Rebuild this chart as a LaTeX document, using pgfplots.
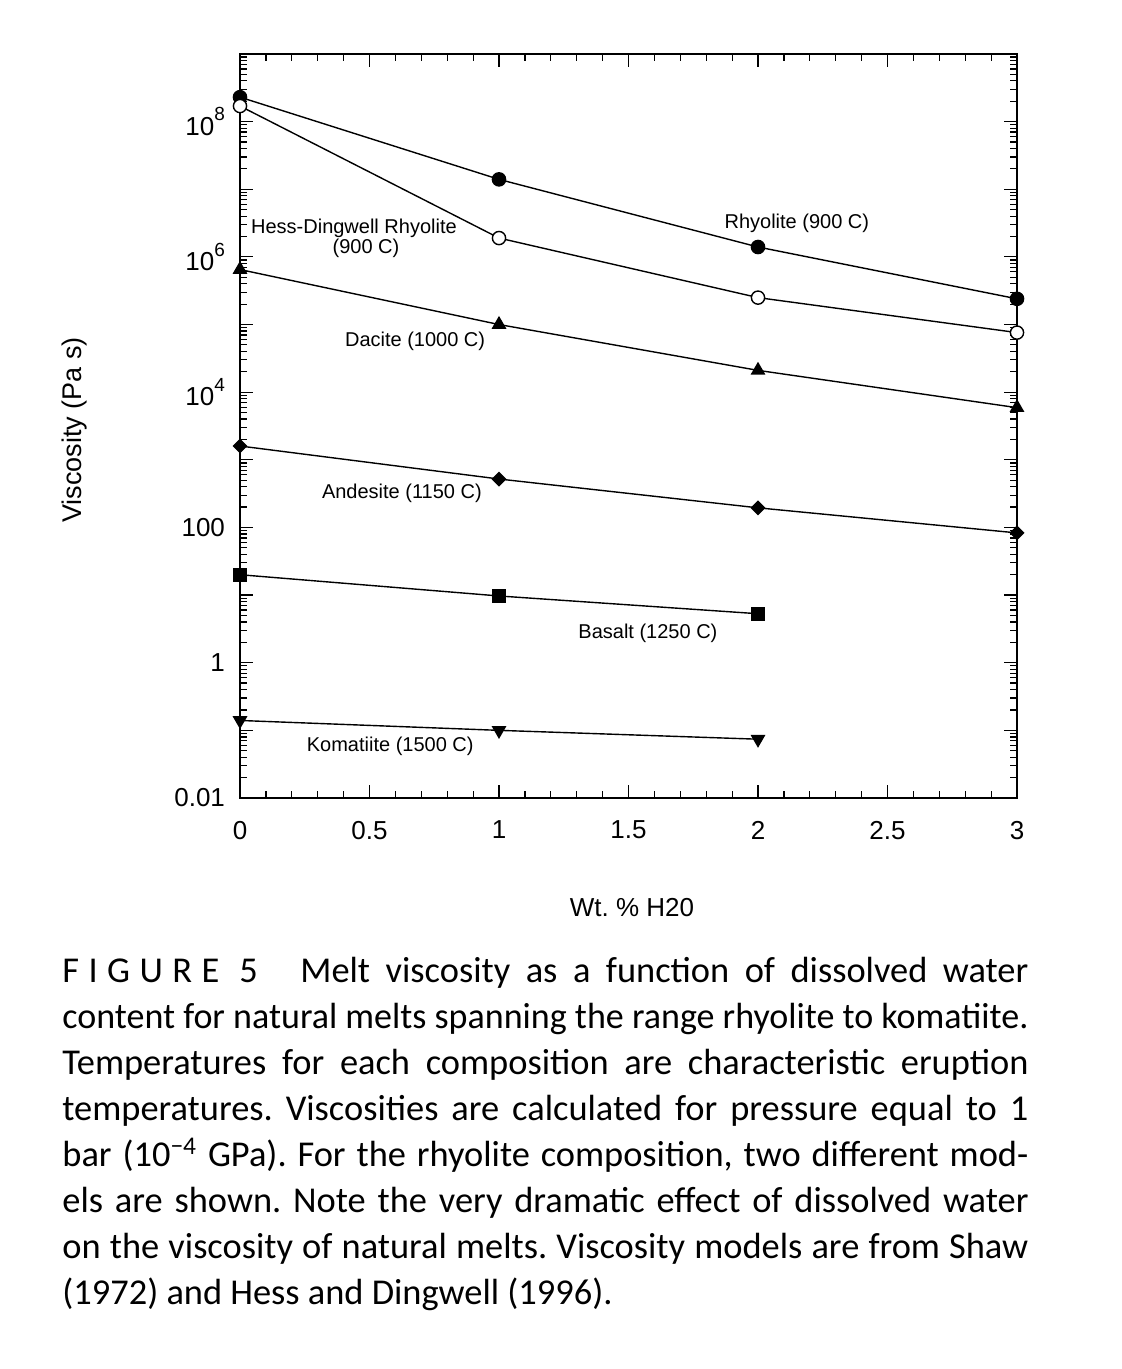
\documentclass[border=0pt]{standalone}
\usepackage{pgfplots}
\pgfplotsset{compat=1.18}
\usepackage{graphicx}
\usepackage{fontspec}
\setmainfont{Liberation Sans}
\newfontfamily\capfont{Carlito}
\newsavebox\capbox
\newcommand\capline[2]{\sbox\capbox{#2}\ifdim\wd\capbox>#1\relax\resizebox{#1}{\height}{\usebox\capbox}\else\makebox[#1][s]{#2}\fi}
\newcommand\tsup[1]{\raisebox{0.55em}{\fontsize{9.5}{9.5}\selectfont #1}}
\frenchspacing
\begin{document}
\begin{tikzpicture}
\path[use as bounding box] (0,0) rectangle (560.5pt,684.5pt);
\begin{axis}[
 at={(120pt,285.5pt)}, anchor=south west,
 scale only axis, width=388.5pt, height=372pt,
 ymode=log, xmin=0, xmax=3, ymin=1e-2, ymax=1e9,
 xtick={0,0.5,1,1.5,2,2.5,3}, minor x tick num=4,
 xticklabels={0,0.5,1,1.5,2,2.5,3},
 ytick={1e-2,1e-1,1,10,100,1e3,1e4,1e5,1e6,1e7,1e8,1e9},
 yticklabels={0.01,,1,,100,,10\tsup{4},,10\tsup{6},,10\tsup{8},},
 major tick length=6.5pt, minor tick length=3.5pt,
 tick style={black, line width=0.6pt},
 axis line style={line width=0.8pt},
 tick label style={font=\fontsize{13}{13}\selectfont},
 xticklabel style={yshift=-8pt},
 yticklabel style={xshift=-4pt},
 clip=false,
 every axis plot/.append style={black, line width=0.7pt},
]
\addplot[mark=*, mark size=3.3pt] coordinates {(0,2.3e8) (1,1.4e7) (2,1.4e6) (3,2.4e5)};
\addplot[mark=*, mark size=3.3pt, mark options={fill=white}] coordinates {(0,1.7e8) (1,1.9e6) (2,2.5e5) (3,7.6e4)};
\addplot[mark=triangle*, mark size=3.6pt] coordinates {(0,6.5e5) (1,1.0e5) (2,2.1e4) (3,5.9e3)};
\addplot[mark=square*, mark size=2.3pt, mark options={rotate=45}] coordinates {(0,1600) (1,520) (2,195) (3,83)};
\addplot[mark=square*, mark size=3.2pt] coordinates {(0,20) (1,9.7) (2,5.3)};
\addplot[mark=triangle*, mark size=3.6pt, mark options={rotate=180}] coordinates {(0,0.14) (1,0.10) (2,0.074)};
\begin{scope}[every node/.style={font=\fontsize{10}{10}\selectfont}]
\node at (axis cs:2.15,3.1e6) {Rhyolite (900 C)};
\node[align=center] at (axis cs:0.44,1.9e6) {Hess-Dingwell Rhyolite\\ \hspace*{1.2em}(900 C)};
\node at (axis cs:0.676,5.6e4) {Dacite (1000 C)};
\node at (axis cs:0.625,316) {Andesite (1150 C)};
\node at (axis cs:1.575,2.75) {Basalt (1250 C)};
\node at (axis cs:0.58,0.059) {Komatiite (1500 C)};
\end{scope}
\end{axis}
\node[rotate=90, font=\fontsize{13.5}{13.5}\selectfont] at (37.5pt,469.5pt) {Viscosity (Pa s)};
\node[font=\fontsize{13}{13}\selectfont] at (316pt,230.5pt) {Wt. \% H20};
\begin{scope}[every node/.style={inner sep=0pt, anchor=base west, font=\capfont\fontsize{18.2}{23}\selectfont}]
\node at (31pt,193pt) {\addfontfeature{LetterSpace=26}FIGURE\hspace{0.55em}5};
\node at (150pt,193pt) {\capline{364pt}{Melt viscosity as a function of dissolved water}};
\node at (31pt,170pt) {\capline{483pt}{content for natural melts spanning the range rhyolite to komatiite.}};
\node at (31pt,147pt) {\capline{483pt}{Temperatures for each composition are characteristic eruption}};
\node at (31pt,124pt) {\capline{483pt}{temperatures. Viscosities are calculated for pressure equal to 1}};
\node at (31pt,101pt) {\capline{483pt}{bar (10\textsuperscript{−4} GPa). For the rhyolite composition, two different mod-}};
\node at (31pt,78pt) {\capline{483pt}{els are shown. Note the very dramatic effect of dissolved water}};
\node at (31pt,55pt) {\capline{483pt}{on the viscosity of natural melts. Viscosity models are from Shaw}};
\node at (31pt,32pt) {(1972) and Hess and Dingwell (1996).};
\end{scope}
\end{tikzpicture}
\end{document}
